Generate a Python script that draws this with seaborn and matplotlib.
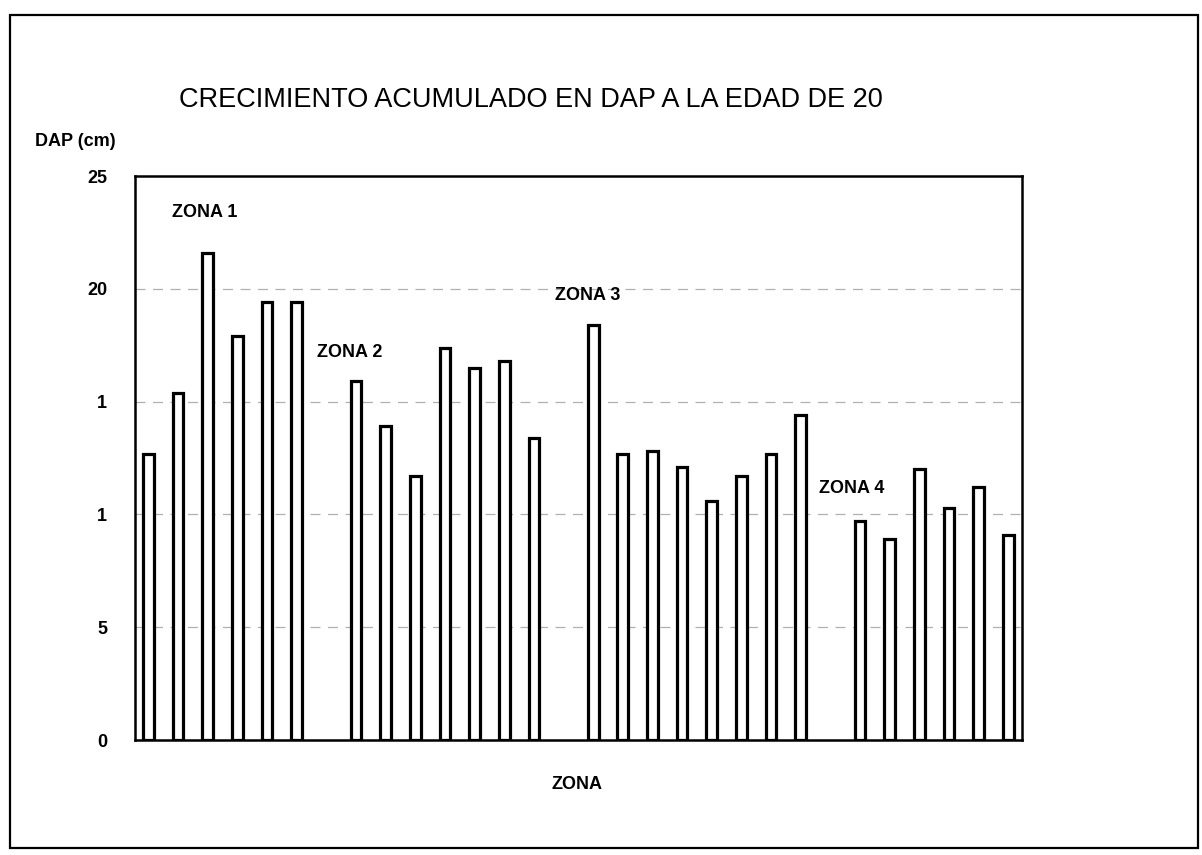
import matplotlib
matplotlib.use("Agg")
import matplotlib.pyplot as plt
import seaborn as sns
import pandas as pd
from matplotlib.patches import Rectangle

# ---- data ----
zona1 = [12.7, 15.4, 21.6, 17.9, 19.4, 19.4]
zona2 = [15.9, 13.9, 11.7, 17.4, 16.5, 16.8, 13.4]
zona3 = [18.4, 12.7, 12.8, 12.1, 10.6, 11.7, 12.7, 14.4]
zona4 = [9.7, 8.9, 12.0, 10.3, 11.2, 9.1]
zone_names = ["ZONA 1", "ZONA 2", "ZONA 3", "ZONA 4"]
ytick_values = [0, 5, 10, 15, 20, 25]
ytick_labels = ["0", "5", "1", "1", "20", "25"]

title = "CRECIMIENTO ACUMULADO EN DAP A LA EDAD DE 20"
ylabel = "DAP (cm)"
xlabel = "ZONA"

rows = []
order = []
for zi, vals in enumerate([zona1, zona2, zona3, zona4]):
    for j, v in enumerate(vals):
        key = f"Z{zi+1}-{j+1}"
        rows.append({"bar": key, "zona": zone_names[zi], "dap": v})
        order.append(key)
    if zi < 3:
        order.append(f"gap{zi+1}")
df = pd.DataFrame(rows)

sns.set_theme(style="white")
plt.rcParams["font.family"] = ["Liberation Sans", "DejaVu Sans"]
plt.rcParams["text.color"] = "black"
plt.rcParams["ytick.color"] = "black"
plt.rcParams["ytick.labelcolor"] = "black"

fig = plt.figure(figsize=(12.02, 8.55), dpi=100)
ax = fig.add_axes([0.1123, 0.1345, 0.7377, 0.6595])

sns.barplot(data=df, x="bar", y="dap", order=order, color="white",
            edgecolor="black", linewidth=2.3, width=0.36, ax=ax,
            errorbar=None, saturation=1)

ax.set_ylim(0, 25)
ax.set_xlim(-0.45, len(order) - 0.55)
ax.set_yticks(ytick_values)
ax.set_yticklabels(ytick_labels, fontsize=13, fontweight="bold", color="black")
ax.tick_params(axis="y", length=0, pad=20)
ax.set_xticks([])
ax.set_xlabel("")
ax.set_ylabel("")
for y in [5, 10, 15, 20]:
    ax.axhline(y, color="#b0b0b0", lw=0.9, ls=(0, (8, 6)), zorder=0)
for s in ax.spines.values():
    s.set_visible(True)
    s.set_color("black")
    s.set_linewidth(1.8)

# zone labels (positions in bar-slot / data units)
zone_label_pos = [(0.8, 23.4), (5.7, 17.2), (13.7, 19.7), (22.6, 11.15)]
for name, (xx, yy) in zip(zone_names, zone_label_pos):
    ax.text(xx, yy, name, fontsize=13, fontweight="bold", ha="left",
            va="center", color="black")

fig.text(0.442, 0.883, title, fontsize=19.5, ha="center", va="center",
         color="black")
fig.text(0.029, 0.835, ylabel, fontsize=13, fontweight="bold",
         ha="left", va="center", color="black")
fig.text(0.48, 0.082, xlabel, fontsize=13, fontweight="bold",
         ha="center", va="center", color="black")

fig.patches.append(Rectangle((0.008, 0.008), 0.989, 0.975,
                             transform=fig.transFigure, fill=False,
                             edgecolor="black", lw=1.6))

fig.savefig("out.png", dpi=100, facecolor="white")
